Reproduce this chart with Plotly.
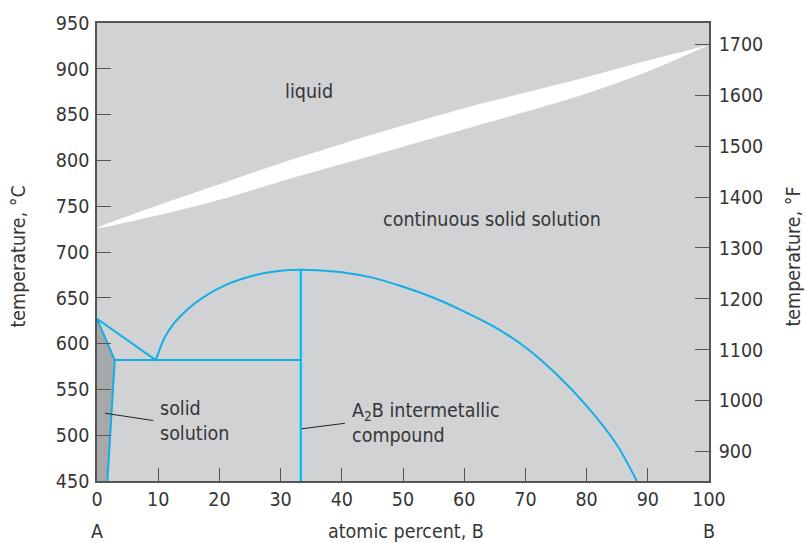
import plotly.graph_objects as go

# Composition (atomic percent B) and temperature (°C) data for the A–B phase diagram
liq_x = [0, 10, 20, 30, 40, 50, 60, 70, 80, 90, 100]
liquidus_T = [726, 751, 774, 797, 818, 838, 857, 874, 891, 909, 926]
solidus_T = [726, 740, 757, 777, 796, 815, 834, 853, 873, 897, 926]

dome_x = [9.6, 11, 12.5, 14, 16, 18, 21, 24, 27, 30, 33.3, 36, 40, 45, 50, 55, 60, 65, 70, 75, 80, 85, 88.2]
dome_T = [582, 605.8, 621.5, 632.3, 644.0, 653.3, 663.8, 671.3, 676.5, 679.6, 680.7, 680.2, 678, 672, 662,
          650, 635, 618, 596, 567, 532, 489, 450]

alpha_x = [0, 2.9, 1.7]
alpha_T = [627, 582, 450]

liqA_x = [0, 9.6]
liqA_T = [627, 582]

eutectic_x = [2.9, 33.3]
eutectic_T = [582, 582]

compound_x = [33.3, 33.3]
compound_T = [450, 680.7]

x_ticks = [0, 10, 20, 30, 40, 50, 60, 70, 80, 90, 100]
c_ticks = [450, 500, 550, 600, 650, 700, 750, 800, 850, 900, 950]
f_ticks = [900, 1000, 1100, 1200, 1300, 1400, 1500, 1600, 1700]

T_MIN, T_MAX = 450, 950

BLUE = "#12aee8"
TEXT = "#363636"
AXIS = "#555555"
FONT = "DejaVu Sans Condensed, Liberation Sans, Arial, sans-serif"

fig = go.Figure()

# Terminal solid solution region near pure A
fig.add_trace(go.Scatter(
    x=[0] + alpha_x + [0], y=[T_MIN] + alpha_T + [T_MIN],
    fill="toself", fillcolor="#a7a8aa", line=dict(width=0),
    mode="lines", hoverinfo="skip", showlegend=False))

# Liquid + solid two-phase lens
fig.add_trace(go.Scatter(
    x=liq_x + liq_x[::-1], y=liquidus_T + solidus_T[::-1],
    fill="toself", fillcolor="white", line=dict(width=0, shape="spline", smoothing=0.8),
    mode="lines", hoverinfo="skip", showlegend=False))

# Compound line with a light halo
fig.add_trace(go.Scatter(x=compound_x, y=compound_T, mode="lines",
                         line=dict(color="#a9dcf2", width=5), hoverinfo="skip", showlegend=False))

line_kw = dict(mode="lines", hoverinfo="skip", showlegend=False)
fig.add_trace(go.Scatter(x=alpha_x, y=alpha_T, line=dict(color=BLUE, width=2), **line_kw))
fig.add_trace(go.Scatter(x=liqA_x, y=liqA_T, line=dict(color=BLUE, width=2), **line_kw))
fig.add_trace(go.Scatter(x=eutectic_x, y=eutectic_T, line=dict(color=BLUE, width=2), **line_kw))
fig.add_trace(go.Scatter(x=compound_x, y=compound_T, line=dict(color=BLUE, width=2), **line_kw))
fig.add_trace(go.Scatter(x=dome_x, y=dome_T, line=dict(color=BLUE, width=2, shape="spline", smoothing=0.8), **line_kw))

# Invisible trace so the Fahrenheit axis is drawn
fig.add_trace(go.Scatter(x=[50], y=[1300], yaxis="y2", mode="markers",
                         marker=dict(opacity=0), hoverinfo="skip", showlegend=False))

# Leader lines for labels
fig.add_shape(type="line", x0=1.3, y0=524, x1=9.2, y1=516, line=dict(color="#222", width=1))
fig.add_shape(type="line", x0=33.45, y0=507, x1=40.5, y1=513, line=dict(color="#222", width=1))

ann_font = dict(family=FONT, size=19.5, color=TEXT)
fig.add_annotation(x=34.7, y=875, text="liquid", showarrow=False, font=ann_font)
fig.add_annotation(x=64.5, y=735, text="continuous solid solution", showarrow=False, font=ann_font)
fig.add_annotation(x=10.0, y=515, text="solid<br>solution", showarrow=False, font=ann_font,
                   xanchor="left", align="left")
fig.add_annotation(x=41.3, y=513, text="A<sub>2</sub>B intermetallic<br>compound", showarrow=False,
                   font=ann_font, xanchor="left", align="left")
fig.add_annotation(x=0, y=0, yref="paper", yshift=-50, yanchor="middle", text="A",
                   showarrow=False, font=ann_font)
fig.add_annotation(x=100, y=0, yref="paper", yshift=-50, yanchor="middle", text="B",
                   showarrow=False, font=ann_font)
fig.add_annotation(x=50.5, y=0, yref="paper", yshift=-50, yanchor="middle", text="atomic percent, B",
                   showarrow=False, font=ann_font)
fig.add_annotation(x=0, xref="paper", xshift=-78, xanchor="center", y=0.49, yref="paper",
                   yanchor="middle", text="temperature, °C", textangle=-90, showarrow=False,
                   font=ann_font)
fig.add_annotation(x=1, xref="paper", xshift=85, xanchor="center", y=0.49, yref="paper",
                   yanchor="middle", text="temperature, °F", textangle=-90, showarrow=False,
                   font=ann_font)

tick_font = dict(family=FONT, size=19.5, color=TEXT)
fig.update_layout(
    width=806, height=543,
    margin=dict(l=97, r=97, t=20, b=62),
    paper_bgcolor="white", plot_bgcolor="#d1d2d4",
    xaxis=dict(range=[0, 100], tickvals=x_ticks, ticks="inside", ticklen=13, tickwidth=1.2,
               tickcolor=AXIS, showline=True, linecolor=AXIS, linewidth=1.5, mirror=True,
               showgrid=False, zeroline=False, tickfont=tick_font, ticklabelstandoff=0),
    yaxis=dict(range=[T_MIN, T_MAX], tickvals=c_ticks, ticks="inside", ticklen=14, tickwidth=1.2,
               tickcolor=AXIS, showline=True, linecolor=AXIS, linewidth=1.5,
               showgrid=False, zeroline=False, tickfont=tick_font, ticklabelstandoff=2),
    yaxis2=dict(range=[T_MIN * 1.8 + 32, T_MAX * 1.8 + 32], tickvals=f_ticks, overlaying="y",
                side="right", ticks="inside", ticklen=14, tickwidth=1.2, tickcolor=AXIS,
                showline=True, linecolor=AXIS, linewidth=1.5, showgrid=False, zeroline=False,
                tickfont=tick_font, ticklabelstandoff=4),
    showlegend=False,
)

fig.write_html("out.html")
